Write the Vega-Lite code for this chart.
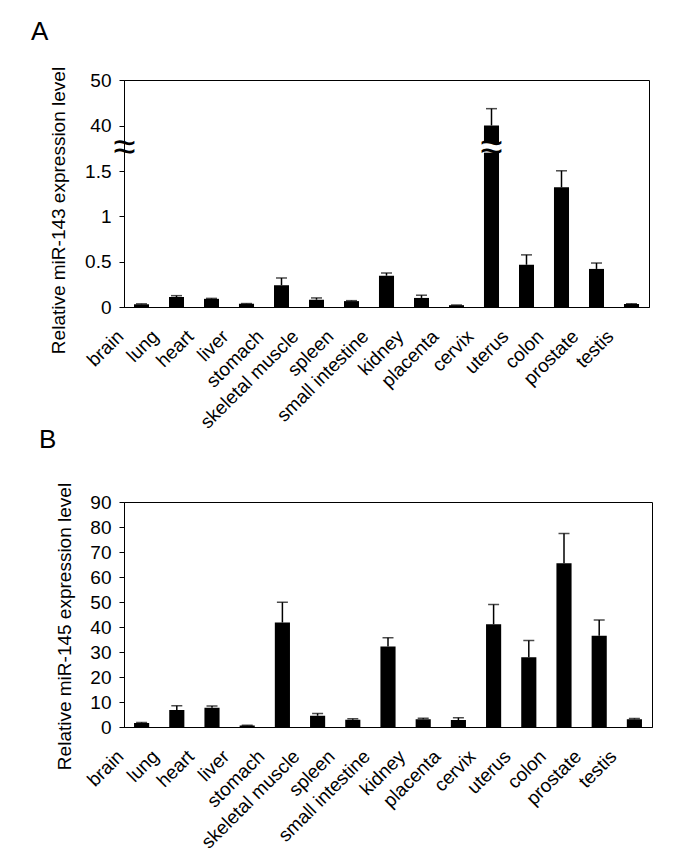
{
  "$schema": "https://vega.github.io/schema/vega-lite/v6.json",
  "padding": {"left": 30, "top": 18, "right": 5, "bottom": 5},
  "background": "white",
  "spacing": -7,
  "config": {
    "font": "Liberation Sans",
    "view": {"stroke": "black", "strokeWidth": 1},
    "axis": {"labelColor": "black", "titleColor": "black", "domainColor": "black", "tickColor": "black", "labelFont": "Liberation Sans", "titleFont": "Liberation Sans", "grid": false, "labelOverlap": false, "labelFlush": false, "labelBound": false},
    "title": {"font": "Liberation Sans", "fontWeight": "normal", "color": "black", "anchor": "start", "frame": "group"}
  },
  "datasets": {
    "mir143": [
      {"tissue": "brain", "value": 0.03, "upper": 0.035},
      {"tissue": "lung", "value": 0.11, "upper": 0.125},
      {"tissue": "heart", "value": 0.09, "upper": 0.095},
      {"tissue": "liver", "value": 0.035, "upper": 0.038},
      {"tissue": "stomach", "value": 0.24, "upper": 0.32},
      {"tissue": "skeletal muscle", "value": 0.08, "upper": 0.1},
      {"tissue": "spleen", "value": 0.065, "upper": 0.07},
      {"tissue": "small intestine", "value": 0.345, "upper": 0.375},
      {"tissue": "kidney", "value": 0.1, "upper": 0.13},
      {"tissue": "placenta", "value": 0.02, "upper": 0.022},
      {"tissue": "cervix", "value": 40, "upper": 43.7},
      {"tissue": "uterus", "value": 0.466, "upper": 0.575},
      {"tissue": "colon", "value": 1.32, "upper": 1.68},
      {"tissue": "prostate", "value": 0.42, "upper": 0.485},
      {"tissue": "testis", "value": 0.033, "upper": 0.036}
    ],
    "mir145": [
      {"tissue": "brain", "value": 1.6, "upper": 1.8},
      {"tissue": "lung", "value": 6.8, "upper": 8.5},
      {"tissue": "heart", "value": 7.7, "upper": 8.4},
      {"tissue": "liver", "value": 0.6, "upper": 0.7},
      {"tissue": "stomach", "value": 41.8, "upper": 49.9},
      {"tissue": "skeletal muscle", "value": 4.5, "upper": 5.4},
      {"tissue": "spleen", "value": 2.9, "upper": 3.3},
      {"tissue": "small intestine", "value": 32.2, "upper": 35.7},
      {"tissue": "kidney", "value": 3.1, "upper": 3.5},
      {"tissue": "placenta", "value": 2.8, "upper": 3.7},
      {"tissue": "cervix", "value": 41.1, "upper": 49.0},
      {"tissue": "uterus", "value": 27.9, "upper": 34.6},
      {"tissue": "colon", "value": 65.5, "upper": 77.4},
      {"tissue": "prostate", "value": 36.5, "upper": 42.8},
      {"tissue": "testis", "value": 3.1, "upper": 3.4}
    ]
  },
  "vconcat": [
    {
      "title": {"text": "A", "fontSize": 26, "dx": -93, "offset": 21},
      "width": 525,
      "height": 227,
      "data": {"name": "mir143"},
      "encoding": {
        "x": {"field": "tissue", "type": "nominal", "sort": null,
          "scale": {"paddingInner": 0.57, "paddingOuter": 0.285},
          "axis": {"title": null, "labelAngle": -45, "labelAlign": "right", "labelBaseline": "middle", "labelFontSize": 19, "labelPadding": 26, "labelOffset": -21, "ticks": false, "domain": true}
        },
        "y": {"field": "value", "type": "quantitative",
          "scale": {"type": "linear", "domain": [0, 1.5, 40, 50], "range": [227, 91, 45.5, 0], "zero": false, "nice": false, "clamp": true},
          "axis": {
            "title": "Relative miR-143 expression level",
            "titleFontSize": 19, "titleFontWeight": "normal", "titlePadding": 16, "titleY": 130,
            "values": [0, 0.5, 1, 1.5, 21, 40, 50],
            "labelExpr": "datum.value == 21 ? '≈' : toString(datum.value)",
            "labelFontSize": {"condition": {"test": "datum.value == 21", "value": 40}, "value": 19},
            "labelAlign": {"condition": {"test": "datum.value == 21", "value": "center"}, "value": "right"},
            "labelPadding": {"condition": {"test": "datum.value == 21", "value": -5}, "value": 8},
            "tickOpacity": {"condition": {"test": "datum.value == 21", "value": 0}, "value": 1},
            "tickSize": 5
          }
        }
      },
      "layer": [
        {
          "mark": {"type": "rule", "color": "black", "strokeWidth": 1.5},
          "encoding": {"y2": {"field": "upper"}}
        },
        {
          "mark": {"type": "tick", "color": "black", "size": 11, "thickness": 1.5},
          "encoding": {"y": {"field": "upper", "type": "quantitative"}}
        },
        {
          "mark": {"type": "bar", "color": "black"}
        },
        {
          "transform": [{"filter": "datum.tissue == 'cervix'"}],
          "mark": {"type": "bar", "color": "white"},
          "encoding": {
            "y": {"datum": 17},
            "y2": {"datum": 25}
          }
        },
        {
          "transform": [{"filter": "datum.tissue == 'cervix'"}],
          "mark": {"type": "text", "color": "black", "fontSize": 40, "text": "≈", "baseline": "middle", "align": "center"},
          "encoding": {
            "y": {"datum": 21}
          }
        }
      ]
    },
    {
      "title": {"text": "B", "fontSize": 26, "dx": -85, "offset": 29},
      "width": 528,
      "height": 225,
      "data": {"name": "mir145"},
      "encoding": {
        "x": {"field": "tissue", "type": "nominal", "sort": null,
          "scale": {"paddingInner": 0.57, "paddingOuter": 0.285},
          "axis": {"title": null, "labelAngle": -45, "labelAlign": "right", "labelBaseline": "middle", "labelFontSize": 19, "labelPadding": 26, "labelOffset": -21, "ticks": false, "domain": true}
        },
        "y": {"field": "value", "type": "quantitative",
          "scale": {"domain": [0, 90], "nice": false},
          "axis": {
            "title": "Relative miR-145 expression level",
            "titleFontSize": 19, "titleFontWeight": "normal", "titlePadding": 15, "titleY": 124,
            "values": [0, 10, 20, 30, 40, 50, 60, 70, 80, 90],
            "labelFontSize": 19, "labelPadding": 8, "tickSize": 5
          }
        }
      },
      "layer": [
        {
          "mark": {"type": "rule", "color": "black", "strokeWidth": 1.5},
          "encoding": {"y2": {"field": "upper"}}
        },
        {
          "mark": {"type": "tick", "color": "black", "size": 11, "thickness": 1.5},
          "encoding": {"y": {"field": "upper", "type": "quantitative"}}
        },
        {
          "mark": {"type": "bar", "color": "black"}
        }
      ]
    }
  ]
}
